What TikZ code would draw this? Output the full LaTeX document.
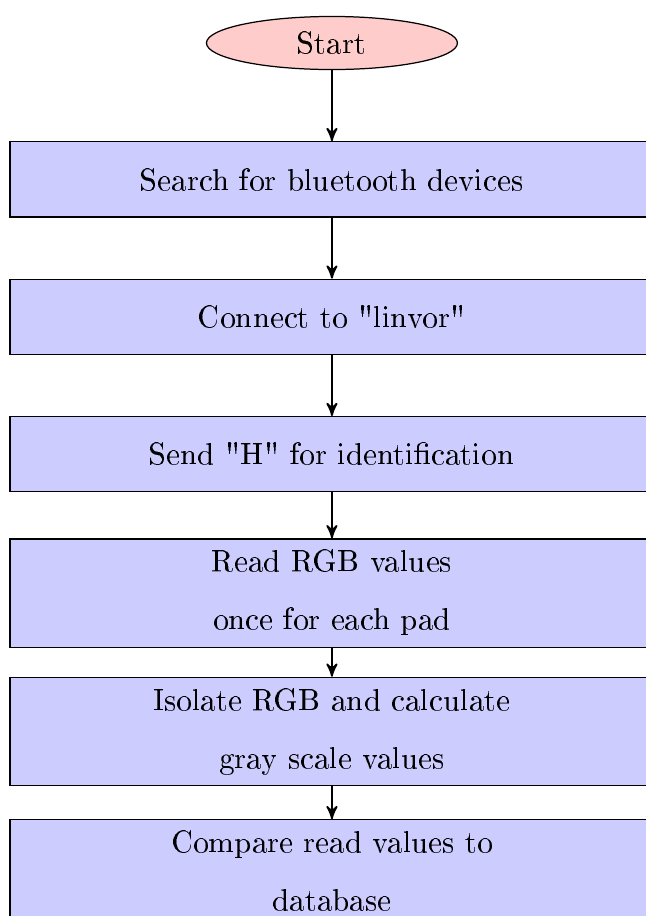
\documentclass[tikz,border=0pt]{standalone}
\usepackage[T1]{fontenc}
\usepackage{amsmath}
\usepackage{tikz}
\usetikzlibrary{arrows,positioning,shapes.geometric}

\tikzset{
  inicio/.style={ellipse, draw, fill=red!20, minimum width=80.9pt, minimum height=17.1pt, inner sep=0pt},
  paso/.style={rectangle, draw, fill=blue!20, minimum width=207.6pt, minimum height=24.2pt, inner ysep=3.7pt, align=center, font=\fontsize{10}{18.7}\selectfont},
  flecha/.style={semithick,->,>=stealth'}
}

\begin{document}
\begin{tikzpicture}
%marco de la figura (las cajas se cortan a la derecha y abajo)
\useasboundingbox (-107pt,13.86pt) rectangle (101.2pt,-281.4pt);
\clip (-107pt,13.86pt) rectangle (101.2pt,-281.4pt);

%Inicio del diagrama
\node [inicio] (start) at (0,0) {Start};

%Pasos uno debajo del otro
\node [paso, below=22.9pt of start] (search) {Search for bluetooth devices};
\node [paso, below=19.7pt of search] (linvor) {Connect to \textquotedbl linvor\textquotedbl};
\node [paso, below=19.7pt of linvor] (ident) {Send \textquotedbl H\textquotedbl{} for identification};
\node [paso, below=14.8pt of ident] (readrgb) {Read RGB values\\once for each pad};
\node [paso, below=9.3pt of readrgb] (gray) {Isolate RGB and calculate\\gray scale values};
\node [paso, below=10.6pt of gray] (compare) {Compare read values to\\database};

%Flechas entre los pasos
\foreach \a/\b in {start/search, search/linvor, linvor/ident, ident/readrgb, readrgb/gray, gray/compare}
	\draw [flecha] (\a) -- (\b);
\end{tikzpicture}
\end{document}
